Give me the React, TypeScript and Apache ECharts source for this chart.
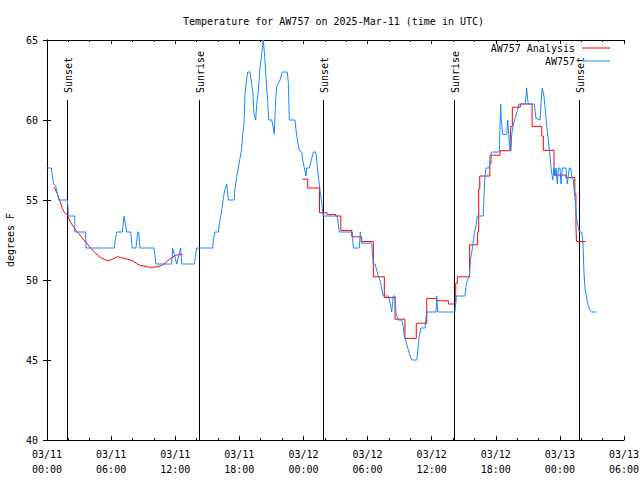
import React, { useEffect, useRef } from 'react';
import * as echarts from 'echarts';

// ---- data ----
const titleText = 'Temperature for AW757 on 2025-Mar-11 (time in UTC)';
const yAxisName = 'degrees F';
const seriesNames = ['AW757 Analysis', 'AW757'];

// hours since 03/11 00:00 UTC
const xTickLabels = [
  '03/11\n00:00', '03/11\n06:00', '03/11\n12:00', '03/11\n18:00',
  '03/12\n00:00', '03/12\n06:00', '03/12\n12:00', '03/12\n18:00',
  '03/13\n00:00', '03/13\n06:00',
];

const sunHours = [1.9, 14.25, 25.86, 38.12, 49.82];
const sunLabels = ['Sunset', 'Sunrise', 'Sunset', 'Sunrise', 'Sunset'];

const obsHours = [
  0, 0.4, 0.51, 0.61, 0.81, 0.96, 1.12, 1.9, 1.97, 1.99, 2.59, 2.61, 3.62, 3.65, 6.3, 6.41, 6.52, 7.05, 7.21, 7.46,
  7.83, 7.98, 8.33, 8.49, 8.58, 8.7, 10.01, 10.2, 11.67, 11.76, 12.14, 12.51, 12.61, 13.79, 14.01, 15.51, 15.56, 15.72, 16.03, 16.13,
  16.26, 16.41, 16.5, 16.66, 16.82, 16.97, 17.53, 17.59, 17.75, 17.9, 18.06, 18.22, 18.32, 18.44, 18.53, 18.69, 18.78, 19.0, 19.09, 19.25,
  19.37, 19.53, 19.63, 19.78, 19.93, 20.09, 20.19, 20.24, 20.37, 20.5, 20.66, 20.75, 21.03, 21.18, 21.27, 21.4, 21.5, 21.81, 22.02, 22.49,
  22.58, 22.68, 23.21, 23.3, 23.43, 23.61, 23.84, 23.93, 24.05, 24.24, 24.3, 24.55, 24.77, 24.92, 25.15, 25.24, 25.39, 25.55, 25.71, 25.86,
  27.17, 27.26, 27.36, 28.57, 28.67, 29.23, 29.32, 29.42, 30.39, 30.48, 30.54, 30.7, 30.86, 31.01, 31.17, 31.32, 31.47, 31.94, 32.19, 32.26,
  32.41, 32.57, 32.66, 32.88, 33.2, 33.35, 33.44, 33.66, 33.91, 34.13, 34.6, 34.69, 34.84, 35.0, 35.38, 35.47, 35.54, 36.41, 36.47, 36.57,
  38.18, 38.3, 39.12, 39.21, 39.34, 39.52, 39.65, 39.84, 39.99, 40.15, 40.27, 40.83, 40.93, 40.99, 41.09, 41.39, 41.46, 41.62, 42.33, 42.46,
  42.52, 42.65, 43.02, 43.12, 43.21, 43.33, 43.43, 43.49, 43.64, 43.8, 44.02, 44.17, 44.74, 44.83, 44.89, 44.95, 45.04, 45.61, 45.76, 46.14,
  46.23, 46.35, 46.51, 46.64, 46.77, 46.92, 47.08, 47.17, 47.33, 47.45, 47.54, 47.64, 47.76, 47.85, 48.01, 48.1, 48.23, 48.57, 48.69, 48.88,
  49.01, 49.1, 49.26, 49.35, 49.48, 49.57, 49.72, 49.82, 50.04, 50.14, 50.19, 50.26, 50.35, 50.51, 50.66, 50.82, 50.98, 51.45,
];
const obsTemps = [
  57, 57, 56.5, 56, 55.9, 55.4, 55, 55, 54.5, 54, 54, 53, 53, 52, 52, 52.6, 53, 53, 54, 53,
  53, 52, 52, 53, 53, 52, 52, 51, 51, 52, 51, 52, 51, 51, 52, 52, 52.5, 53, 53, 53.5,
  54, 54.6, 55.1, 55.7, 56, 55, 55, 55.7, 56.4, 57, 57.6, 58.2, 59.1, 59.8, 61.6, 62.6, 63, 63, 62.6, 61.8,
  60.4, 60, 61, 61.8, 63.2, 64.1, 64.7, 65, 64, 62.6, 61.1, 60, 60, 59.5, 59.1, 61.25, 62.1, 62.5, 63, 63,
  62.4, 60, 60, 59.4, 58.75, 58.1, 58, 57.5, 57.1, 56.5, 57, 57, 57.6, 58, 58, 57.5, 56.5, 55.6, 54.8, 54,
  54, 53.5, 53, 53, 52, 52, 53, 52.3, 52.3, 51.5, 51, 51, 50.6, 50.2, 50, 49.5, 49, 49, 48.3, 48,
  49, 49, 47.9, 47.5, 47.5, 47.1, 46.5, 46, 45.4, 45, 45, 45.5, 46.5, 47, 47, 47.7, 48, 48, 49, 48,
  48, 49, 49, 49.6, 50, 50.2, 51.35, 52.1, 52.9, 53.4, 54, 54, 55.8, 56.5, 57, 57, 57.8, 58, 58, 61,
  60, 59.1, 59.1, 60, 59.1, 58.1, 58.1, 59.1, 59.7, 60.1, 60.6, 61, 61, 61.5, 62, 61.5, 61, 61, 60.1, 60,
  61, 62, 61.5, 60.6, 59.6, 58.75, 57.7, 57, 56.25, 57, 56.5, 57, 56, 57, 57, 56, 57, 57, 56, 57,
  57, 56.5, 56.25, 55.5, 54.6, 53.75, 53.3, 53, 53, 52.5, 51.7, 50.4, 49.5, 48.85, 48.4, 48.1, 48, 48,
];

// analysis, first part (smooth)
const anaSmoothHours = [
  0.66, 0.96, 1.28, 1.43, 1.59, 1.9, 2.22, 2.53, 2.84, 3.15, 3.46, 3.77, 4.09, 4.4, 4.71, 5.03, 5.34, 5.64, 5.96, 6.27,
  6.58, 6.9, 7.21, 7.52, 7.83, 8.14, 8.45, 8.77, 9.08, 9.39, 9.71, 10.27, 10.73, 11.04, 11.35, 11.67, 12.14, 12.7,
];
const anaSmoothTemps = [
  55.8, 55.4, 54.8, 54.48, 54.27, 54.06, 53.6, 53.27, 53.0, 52.75, 52.5, 52.25, 52.0, 51.77, 51.56, 51.4, 51.3, 51.2, 51.25, 51.35,
  51.46, 51.4, 51.35, 51.3, 51.25, 51.15, 51.0, 50.9, 50.88, 50.83, 50.78, 50.83, 50.9, 51.04, 51.25, 51.4, 51.56, 51.6,
];

// analysis, second part (stepped: value holds until next hour mark)
const anaStepHours = [
  23.9, 24.4, 25.5, 26.2, 27.0, 27.5, 28.52, 29.45, 30.54, 31.57, 32.57, 33.5, 34.56, 35.54, 36.47, 37.56, 38.25, 38.4, 39.55, 40.3,
  40.4, 40.5, 41.45, 41.55, 42.4, 43.35, 43.4, 43.55, 44.3, 45.4, 46.3, 46.45, 47.45, 48.55, 49.4, 49.5, 49.55, 50.42,
];
const anaStepTemps = [
  56.3, 55.75, 54.2, 54.1, 54.0, 53.1, 52.7, 52.4, 50.2, 48.9, 47.55, 46.35, 47.3, 48.85, 48.7, 48.5, 49.8, 50.2, 52.2, 53.0,
  55.7, 56.5, 57.3, 57.8, 58.08, 58.65, 59.6, 60.8, 61.0, 59.6, 59.0, 58.1, 56.56, 56.4, 55.4, 53.5, 52.4, 52.4,
];

const SUN_LINE_TOP = 61.25;
const FONT = '"DejaVu Sans Mono", "Liberation Mono", monospace';
const FS = 10;
const BLUE = '#1a88ff';
const RED = '#ff0000';

const zip = (a: number[], b: number[]) => a.map((v, i) => [v, b[i]]);

export default function App() {
  const ref = useRef<HTMLDivElement>(null);
  useEffect(() => {
    if (!ref.current) return;
    const chart = echarts.init(ref.current, undefined, { renderer: 'svg' });
    const axisLine = { show: true, lineStyle: { color: '#000', width: 1 } };
    const textStyle = { fontFamily: FONT, fontSize: FS, color: '#000' };
    chart.setOption({
      animation: false,
      backgroundColor: '#fff',
      textStyle,
      title: {
        text: titleText,
        left: 178,
        top: 11,
        textStyle: { ...textStyle, fontWeight: 'normal' },
      },
      legend: {
        data: seriesNames.map((n) => ({ name: n, icon: 'rect' })),
        orient: 'vertical',
        align: 'right',
        right: 25,
        top: 38,
        itemWidth: 28,
        itemHeight: 1,
        itemGap: 3,
        textStyle: { ...textStyle, padding: [0, 2, 0, 0] },
      },
      grid: { left: 47, right: 16, top: 40, bottom: 40, outerBoundsMode: 'none', containLabel: false },
      xAxis: [
        {
          type: 'value', min: 0, max: 54, interval: 6,
          axisLine,
          axisTick: { show: true, inside: true, length: 4, lineStyle: { color: '#000' } },
          minorTick: { show: true, splitNumber: 3, length: 2, lineStyle: { color: '#000' } },
          splitLine: { show: false },
          axisLabel: {
            ...textStyle, margin: 7, lineHeight: 15, showMinLabel: true, showMaxLabel: true, hideOverlap: false,
            formatter: (v: number) => xTickLabels[Math.round(v / 6)] ?? '',
          },
        },
        {
          type: 'value', min: 0, max: 54, interval: 6, position: 'top',
          axisLine,
          axisTick: { show: true, inside: true, length: 4, lineStyle: { color: '#000' } },
          minorTick: { show: true, splitNumber: 3, length: 2, lineStyle: { color: '#000' } },
          splitLine: { show: false },
          axisLabel: { show: false },
        },
      ],
      yAxis: [
        {
          type: 'value', min: 40, max: 65, interval: 5,
          name: yAxisName, nameLocation: 'middle', nameGap: 32,
          nameTextStyle: { ...textStyle },
          axisLine,
          axisTick: { show: true, inside: true, length: 4, lineStyle: { color: '#000' } },
          splitLine: { show: false },
          axisLabel: { ...textStyle, margin: 9 },
        },
        {
          type: 'value', min: 40, max: 65, interval: 5, position: 'right',
          axisLine,
          axisTick: { show: true, inside: true, length: 4, lineStyle: { color: '#000' } },
          splitLine: { show: false },
          axisLabel: { show: false },
        },
      ],
      series: [
        {
          type: 'custom',
          silent: true,
          data: sunHours.map((h) => [h]),
          renderItem: (params: any, api: any) => {
            const t = api.value(0);
            const b = api.coord([t, 40]);
            const tp = api.coord([t, SUN_LINE_TOP]);
            const x = Math.round(b[0]) + 0.5;
            return {
              type: 'group',
              children: [
                { type: 'line', shape: { x1: x, y1: b[1], x2: x, y2: tp[1] }, style: { stroke: '#000', lineWidth: 1 } },
                {
                  type: 'text', x: x + 0.5, y: tp[1] - 7, rotation: Math.PI / 2,
                  style: { text: sunLabels[params.dataIndex], fill: '#000', fontFamily: FONT, fontSize: FS, align: 'left', verticalAlign: 'middle' },
                },
              ],
            };
          },
        },
        {
          name: seriesNames[0], type: 'line', symbol: 'none', data: zip(anaSmoothHours, anaSmoothTemps),
          lineStyle: { color: RED, width: 1 }, itemStyle: { color: RED },
        },
        {
          name: seriesNames[0], type: 'line', symbol: 'none', step: 'end', data: zip(anaStepHours, anaStepTemps),
          lineStyle: { color: RED, width: 1 }, itemStyle: { color: RED },
        },
        {
          name: seriesNames[1], type: 'line', symbol: 'none', data: zip(obsHours, obsTemps),
          lineStyle: { color: BLUE, width: 1 }, itemStyle: { color: BLUE },
        },
      ],
    });
    return () => chart.dispose();
  }, []);
  return <div ref={ref} style={{ position: 'fixed', left: 0, top: 0, width: 640, height: 480, background: '#fff' }} />;
}
